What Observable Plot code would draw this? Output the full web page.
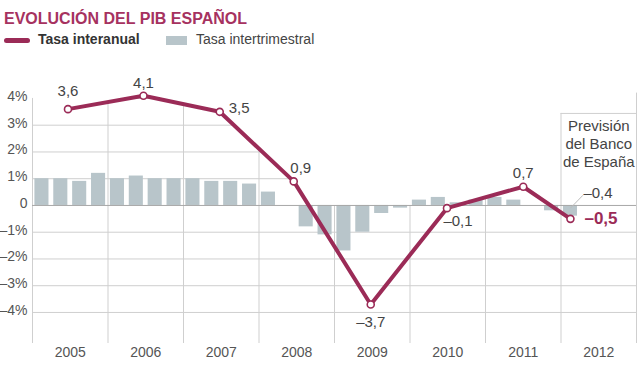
<!DOCTYPE html>
<html>
<head>
<meta charset="utf-8">
<script src="https://cdn.jsdelivr.net/npm/d3@7"></script>
<script src="https://cdn.jsdelivr.net/npm/@observablehq/plot@0.6"></script>
<style>
  body { margin: 0; background: #fff; }
  #wrap { width: 640px; font-family: "Liberation Sans", Arial, sans-serif; }
  #hdr { position: relative; height: 55px; width: 640px; }
  #hdr div { position: absolute; white-space: nowrap; }
  .title { left: 4px; top: 10.5px; font-size: 16px; line-height: 16px; font-weight: bold; color: #a6325f; }
  .lg { top: 32px; font-size: 14px; line-height: 14px; }
  svg { display: block; }
</style>
</head>
<body>
<div id="wrap">
  <div id="hdr">
    <div class="title">EVOLUCIÓN DEL PIB ESPAÑOL</div>
    <div style="left:4px;top:38px;width:26px;height:4.5px;border-radius:2.5px;background:#9b2b57"></div>
    <div class="lg" style="left:38px;font-weight:bold;color:#333">Tasa interanual</div>
    <div style="left:166px;top:36px;width:21px;height:9px;background:#b8c5ca"></div>
    <div class="lg" style="left:196px;color:#444">Tasa intertrimestral</div>
  </div>
  <div id="chart"></div>
</div>
<script>
// ---- data ----
const years = [2005, 2006, 2007, 2008, 2009, 2010, 2011, 2012];
const interanualT = [2005.47, 2006.47, 2007.48, 2008.46, 2009.48, 2010.49, 2011.5, 2012.125];
const interanual = [3.6, 4.1, 3.5, 0.9, -3.7, -0.1, 0.7, -0.5];
const interanualLabels = ["3,6", "4,1", "3,5", "0,9", "–3,7", "–0,1", "0,7", "–0,5"];

const quarterYear = [2005,2005,2005,2005, 2006,2006,2006,2006, 2007,2007,2007,2007, 2008,2008,2008,2008,
                     2009,2009,2009,2009, 2010,2010,2010,2010, 2011,2011,2011,2011, 2012];
const quarterNum  = [1,2,3,4, 1,2,3,4, 1,2,3,4, 1,2,3,4, 1,2,3,4, 1,2,3,4, 1,2,3,4, 1];
const intertrimestral = [1.0, 1.0, 0.9, 1.2,
                         1.0, 1.1, 1.0, 1.0,
                         1.0, 0.9, 0.9, 0.8,
                         0.5, 0.0, -0.8, -1.1,
                         -1.7, -1.0, -0.3, -0.1,
                         0.2, 0.3, 0.1, 0.2,
                         0.3, 0.2, 0.0, -0.2,
                         -0.4];
const forecastLabel = "–0,4";
const forecastNote = "Previsión\ndel Banco\nde España";

const yTicks = [4, 3, 2, 1, 0, -1, -2, -3, -4];
const yTickLabels = ["4%", "3%", "2%", "1%", "0", "–1%", "–2%", "–3%", "–4%"];

// ---- styling / layout ----
const MAG = "#9b2b57";
const GRID = "#cfcfcf";
const BAR = "#b8c5ca";
const yMin = -5.16, yMax = 4.2;
const boxTop = 3.44;
// label offsets [dx, dy, anchor]
const labelOffsets = [[0,-18,"middle"],[0,-13,"middle"],[9,-4,"start"],[7,-13,"middle"],
                      [0,18,"middle"],[11,13,"middle"],[0,-14,"middle"],[14,0,"start"]];

const lineData = interanualT.map((t, i) => ({t, v: interanual[i], label: interanualLabels[i], i}));
const bars = intertrimestral.map((v, i) => ({t: quarterYear[i] + (quarterNum[i] - 1) / 4, v}));

// mask above the line (gridlines hidden above max(line, 0))
const maskPts = [{t: years[0], v: interanual[0]}];
for (let i = 0; i < lineData.length; i++) {
  const a = lineData[i];
  if (i > 0) {
    const b = lineData[i - 1];
    if ((a.v > 0) !== (b.v > 0)) {
      const tc = b.t + (a.t - b.t) * (0 - b.v) / (a.v - b.v);
      maskPts.push({t: tc, v: 0});
    }
  }
  maskPts.push({t: a.t, v: a.v});
}
maskPts.push({t: 2013, v: 0});
maskPts.forEach(d => d.v = Math.max(0, d.v));

const lastBar = bars[bars.length - 1];

const labelMarks = lineData.map((d, i) => Plot.text([d], {
  x: "t", y: "v", text: "label",
  dx: labelOffsets[i][0], dy: labelOffsets[i][1], textAnchor: labelOffsets[i][2],
  fill: i === lineData.length - 1 ? MAG : "#444",
  fontWeight: i === lineData.length - 1 ? "bold" : "normal",
  fontSize: i === lineData.length - 1 ? 17 : 15
}));

const chart = Plot.plot({
  width: 640,
  height: 312,
  marginLeft: 32,
  marginRight: 4,
  marginTop: 37.6,
  marginBottom: 24,
  x: {domain: [2005, 2013], axis: null},
  y: {domain: [yMin, yMax], axis: null},
  style: {fontFamily: "'Liberation Sans', Arial, sans-serif", fontSize: "14px", background: "white", overflow: "visible"},
  marks: [
    Plot.ruleY(yTicks.filter(v => v !== 0), {x1: 2005, x2: 2013, stroke: GRID}),
    Plot.ruleX(years.concat([2013]), {y1: yMin, y2: yMax, stroke: GRID}),
    Plot.areaY(maskPts, {x: "t", y1: "v", y2: yMax + 0.5, fill: "white", curve: "linear"}),
    Plot.ruleX([2012, 2013], {y1: 0, y2: boxTop, stroke: GRID}),
    Plot.ruleY([boxTop], {x1: 2012, x2: 2013, stroke: GRID}),
    Plot.ruleX([2005], {y1: yMin, y2: 4, stroke: GRID}),
    Plot.rect(bars, {x1: "t", x2: d => d.t + 0.25, y1: 0, y2: "v", fill: BAR, insetLeft: 2.4, insetRight: 2.4}),
    Plot.ruleY([0], {x1: 2005, x2: 2013, stroke: "#a8a8a8"}),
    Plot.link([lastBar], {x1: d => d.t + 0.125, y1: -0.1, x2: d => d.t + 0.29, y2: 0.38, stroke: "#bbb", strokeWidth: 1}),
    Plot.text([lastBar], {x: d => d.t + 0.125, y: 0, text: () => forecastLabel, dx: 13, dy: -12, textAnchor: "start", fill: "#444", fontSize: 15}),
    Plot.line(lineData, {x: "t", y: "v", stroke: MAG, strokeWidth: 4, strokeLinejoin: "round"}),
    Plot.dot(lineData, {x: "t", y: "v", r: 3.5, fill: "white", stroke: MAG, strokeWidth: 1.6}),
    ...labelMarks,
    Plot.text([forecastNote], {x: 2012.5, y: 2.34, text: d => d, lineHeight: 1.2, fill: "#444", fontSize: 15}),
    Plot.text(yTicks, {x: 2005, y: d => d, text: (d, i) => yTickLabels[i], dx: -5, dy: -2, textAnchor: "end", fill: "#555"}),
    Plot.text(years, {x: d => d + 0.5, y: yMin, text: d => String(d), dy: 9, fill: "#555"})
  ]
});
document.getElementById("chart").appendChild(chart);
</script>
</body>
</html>
